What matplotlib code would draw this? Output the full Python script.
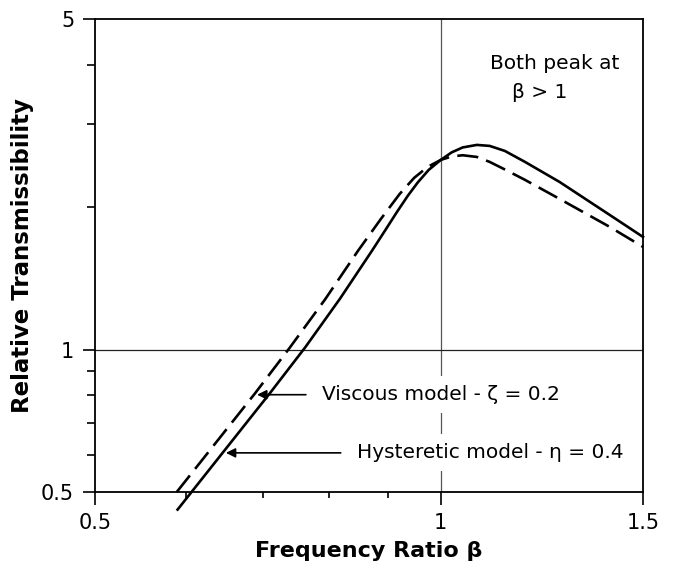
import matplotlib
matplotlib.use('Agg')
import matplotlib.pyplot as plt
from matplotlib.ticker import NullFormatter

# values (log-log axes)
beta_hyst = [0.590, 0.710, 0.762, 0.817, 0.871, 0.894, 0.916, 0.936, 0.955, 0.976,
             1.000, 1.022, 1.045, 1.075, 1.103, 1.137, 1.184, 1.269, 1.403, 1.500]
tr_hyst = [0.459, 0.809, 1.011, 1.281, 1.617, 1.783, 1.955, 2.114, 2.257, 2.398,
           2.518, 2.612, 2.676, 2.709, 2.696, 2.631, 2.494, 2.262, 1.927, 1.731]

beta_visc = [0.589, 0.689, 0.738, 0.793, 0.847, 0.887, 0.921, 0.948, 0.974, 1.000,
             1.022, 1.045, 1.075, 1.103, 1.137, 1.184, 1.269, 1.403, 1.500]
tr_visc = [0.500, 0.808, 1.006, 1.277, 1.617, 1.890, 2.134, 2.307, 2.434, 2.518,
           2.561, 2.576, 2.555, 2.494, 2.404, 2.285, 2.083, 1.818, 1.649]

x_major = [0.5, 1, 1.5]
x_minor = [0.6, 0.7, 0.8, 0.9]
y_major = [0.5, 1, 5]
y_minor = [0.6, 0.7, 0.8, 0.9, 2, 3, 4]

plt.rcParams['font.family'] = 'DejaVu Sans'

fig = plt.figure(figsize=(6.73, 5.66), dpi=100)
ax = fig.add_axes([0.1412, 0.1307, 0.8142, 0.8357])

ax.set_xscale('log')
ax.set_yscale('log')
ax.set_xlim(0.5, 1.5)
ax.set_ylim(0.5, 5)

ax.axvline(1, color='#555555', lw=0.9, zorder=1)
ax.axhline(1, color='#222222', lw=0.9, zorder=1)

ax.plot(beta_hyst, tr_hyst, color='black', lw=1.9, clip_on=False, zorder=3)
ax.plot(beta_visc, tr_visc, color='black', lw=1.9, dashes=(8, 3.2), clip_on=False, zorder=3)

ax.set_xticks(x_major)
ax.set_xticklabels(['0.5', '1', '1.5'])
ax.set_xticks(x_minor, minor=True)
ax.xaxis.set_minor_formatter(NullFormatter())
ax.set_yticks(y_major)
ax.set_yticklabels(['0.5', '1', '5'])
ax.set_yticks(y_minor, minor=True)
ax.yaxis.set_minor_formatter(NullFormatter())

ax.tick_params(which='major', direction='out', length=9, width=1.2, labelsize=15, pad=6)
ax.tick_params(axis='x', which='minor', direction='out', length=4.3, width=1.2)
ax.tick_params(axis='y', which='minor', direction='out', length=5.8, width=1.2)
for s in ax.spines.values():
    s.set_linewidth(1.3)

ax.set_xlabel('Frequency Ratio β', fontsize=16, fontweight='bold', labelpad=6)
ax.set_ylabel('Relative Transmissibility', fontsize=16.5, fontweight='bold', labelpad=5)

ax.text(0.721, 0.907, 'Both peak at', transform=ax.transAxes, fontsize=14.5, va='center')
ax.text(0.761, 0.844, 'β > 1', transform=ax.transAxes, fontsize=14.5, va='center')

box = dict(boxstyle='square,pad=0.45', fc='white', ec='none')
ax.annotate('Viscous model - ζ = 0.2', xy=(0.692, 0.803), xytext=(0.788, 0.803),
            fontsize=14.5, va='center', bbox=box, zorder=4,
            arrowprops=dict(arrowstyle='-|>', color='black', lw=1.2, mutation_scale=14,
                            shrinkA=5, shrinkB=0))
ax.annotate('Hysteretic model - η = 0.4', xy=(0.650, 0.605), xytext=(0.845, 0.605),
            fontsize=14.5, va='center', bbox=box, zorder=4,
            arrowprops=dict(arrowstyle='-|>', color='black', lw=1.2, mutation_scale=14,
                            shrinkA=5, shrinkB=0))

fig.savefig('out.png', dpi=100)
